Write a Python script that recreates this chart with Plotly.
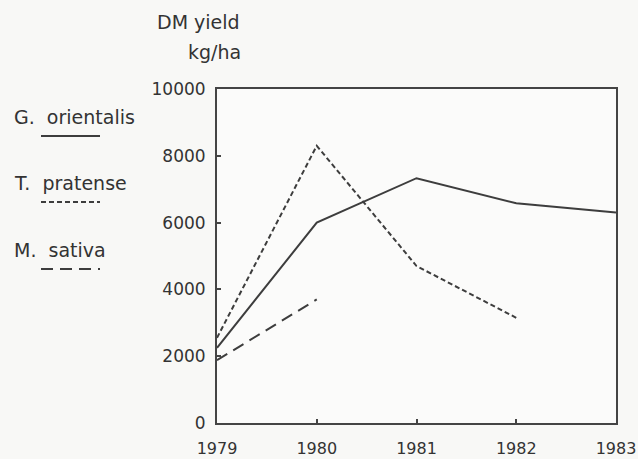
import plotly.graph_objects as go

W, H = 638, 459

years = [1979, 1980, 1981, 1982, 1983]
g_orientalis = [2250, 6000, 7330, 6580, 6300]
t_pratense = [2550, 8300, 4700, 3150]
m_sativa = [1880, 3700]

y_ticks = [0, 2000, 4000, 6000, 8000, 10000]
x_ticks = [1979, 1980, 1981, 1982, 1983]

ink = "#333333"
line_col = "#3d3d3d"
family = "DejaVu Sans, Liberation Sans, sans-serif"
num_font = dict(family=family, size=17, color=ink)
xnum_font = dict(family=family, size=16, color=ink)
txt_font = dict(family=family, size=19, color=ink)

# plot box in pixels
x0, x1 = 217, 616
y0, y1 = 89, 423


def px(x):
    return x / W


def py(y):
    return 1 - y / H


fig = go.Figure()
fig.add_trace(go.Scatter(x=years, y=g_orientalis, mode="lines",
                         line=dict(color=line_col, width=2, dash="solid"),
                         name="G. orientalis"))
fig.add_trace(go.Scatter(x=years[:len(t_pratense)], y=t_pratense, mode="lines",
                         line=dict(color=line_col, width=2, dash="5px,3px"),
                         name="T. pratense"))
fig.add_trace(go.Scatter(x=years[:len(m_sativa)], y=m_sativa, mode="lines",
                         line=dict(color=line_col, width=2, dash="12px,7px"),
                         name="M. sativa"))

axis_common = dict(showgrid=False, zeroline=False, showline=True, linecolor="#444444",
                   linewidth=2, mirror=True, ticks="inside", ticklen=4, tickwidth=1.5,
                   tickcolor="#444444", automargin=False, ticklabeloverflow="allow")

fig.update_xaxes(range=[1979, 1983], tickvals=x_ticks, ticktext=[str(v) for v in x_ticks],
                 domain=[px(x0), px(x1)], ticklabelstandoff=10, tickfont=xnum_font,
                 **axis_common)
fig.update_yaxes(range=[0, 10000], tickvals=y_ticks, ticktext=[str(v) for v in y_ticks],
                 domain=[py(y1), py(y0)], ticklabelstandoff=6, tickfont=num_font,
                 **axis_common)

annotations = [
    dict(text="DM yield", x=px(155), y=py(22)),
    dict(text="kg/ha", x=px(186), y=py(52)),
    dict(text="G.  orientalis", x=px(12), y=py(117)),
    dict(text="T.  pratense", x=px(12), y=py(183)),
    dict(text="M.  sativa", x=px(12), y=py(250)),
]
for a in annotations:
    a.update(xref="paper", yref="paper", xanchor="left", yanchor="middle",
             showarrow=False, font=txt_font)

# legend line samples
samples = [(136, "solid"), (202, "5px,3px"), (269, "12px,7px")]
shapes = []
for yy, dash in samples:
    shapes.append(dict(type="line", xref="paper", yref="paper",
                       x0=px(41), x1=px(100), y0=py(yy), y1=py(yy),
                       line=dict(color=line_col, width=2, dash=dash)))

fig.update_layout(width=W, height=H, margin=dict(l=0, r=0, t=0, b=0),
                  paper_bgcolor="#f8f8f6", plot_bgcolor="#fbfbfa",
                  showlegend=False, annotations=annotations, shapes=shapes,
                  font=txt_font)

fig.write_html("out.html")
